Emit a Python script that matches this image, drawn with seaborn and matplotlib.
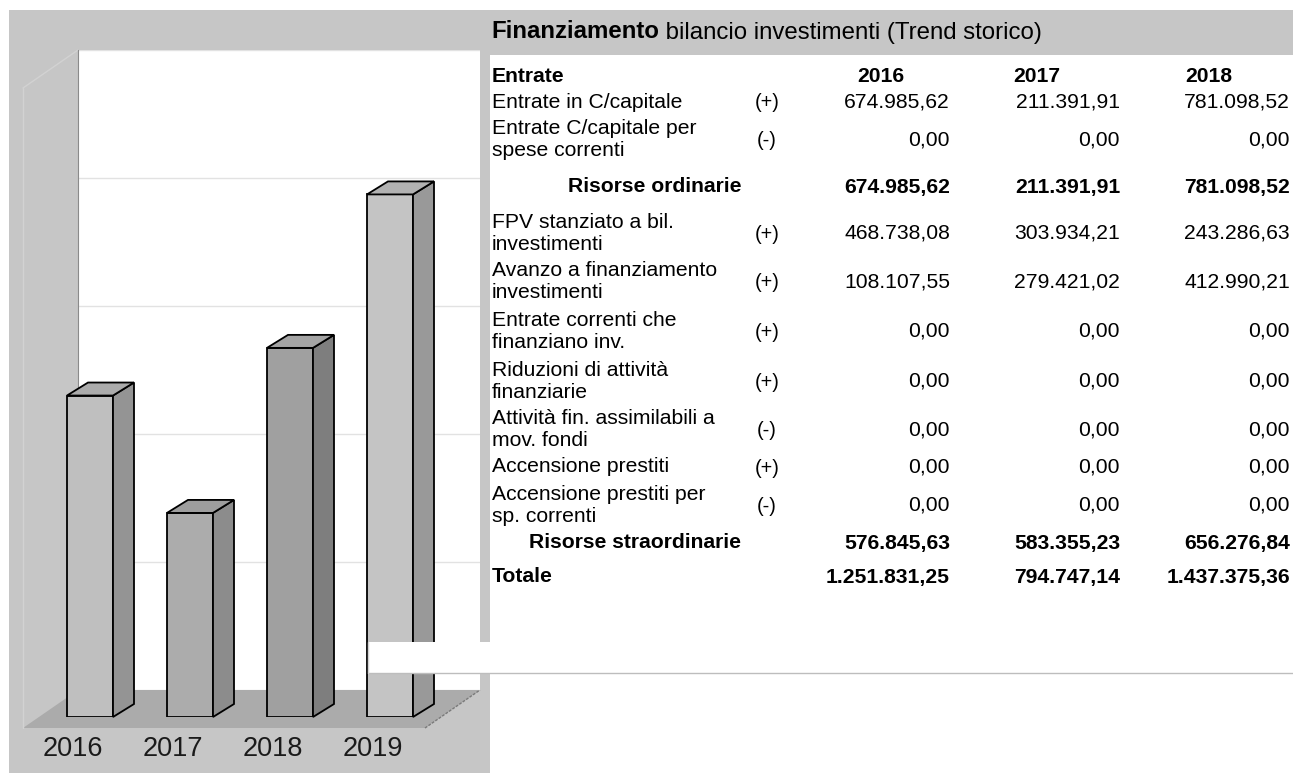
import matplotlib
matplotlib.use("Agg")
import matplotlib.pyplot as plt
import matplotlib.transforms as mtransforms
from matplotlib.patches import Polygon, Rectangle
import seaborn as sns
import pandas as pd

# Dati del grafico: totale finanziamento investimenti per anno
anni = ["2016", "2017", "2018", "2019"]
totali = [1251831.25, 794747.14, 1437375.36, 2035000.00]

# Dati della tabella
anni_tabella = ["2016", "2017", "2018"]
voci = [
    "Entrate in C/capitale",
    "Entrate C/capitale per\nspese correnti",
    "Risorse ordinarie",
    "FPV stanziato a bil.\ninvestimenti",
    "Avanzo a finanziamento\ninvestimenti",
    "Entrate correnti che\nfinanziano inv.",
    "Riduzioni di attività\nfinanziarie",
    "Attività fin. assimilabili a\nmov. fondi",
    "Accensione prestiti",
    "Accensione prestiti per\nsp. correnti",
    "Risorse straordinarie",
    "Totale",
]
segni = ["(+)", "(-)", "", "(+)", "(+)", "(+)", "(+)", "(-)", "(+)", "(-)", "", ""]
valori_2016 = [674985.62, 0, 674985.62, 468738.08, 108107.55, 0, 0, 0, 0, 0, 576845.63, 1251831.25]
valori_2017 = [211391.91, 0, 211391.91, 303934.21, 279421.02, 0, 0, 0, 0, 0, 583355.23, 794747.14]
valori_2018 = [781098.52, 0, 781098.52, 243286.63, 412990.21, 0, 0, 0, 0, 0, 656276.84, 1437375.36]
righe_grassetto = {2, 10, 11}

W, H = 1293, 775
GRIGIO = "#c6c6c6"

sns.set_style("white")
plt.rcParams["font.family"] = ["Liberation Sans", "DejaVu Sans"]
plt.rcParams["text.color"] = "black"

fig = plt.figure(figsize=(W / 100, H / 100), dpi=100)
fig.patch.set_facecolor("white")


def px_axes(x0, y0, x1, y1, z):
    # assi posizionati in pixel (origine in alto a sinistra)
    a = fig.add_axes([x0 / W, 1 - y1 / H, (x1 - x0) / W, (y1 - y0) / H])
    a.set_zorder(z)
    return a


def formatta(v):
    s = f"{v:,.2f}"
    return s.replace(",", "X").replace(".", ",").replace("X", ".")


# --- sfondo (coordinate in pixel) ---
bg = px_axes(0, 0, W, H, 0)
bg.set_xlim(0, W)
bg.set_ylim(H, 0)
bg.axis("off")
bg.add_patch(Rectangle((9, 10), 481, 763, color=GRIGIO, lw=0))
bg.add_patch(Rectangle((9, 10), W - 9, 45, color=GRIGIO, lw=0))
# pavimento 3D
bg.add_patch(Polygon([(23, 728), (425, 728), (480, 690), (78, 690)], closed=True,
                     facecolor="#ababab", edgecolor="none"))
bg.plot([425, 480], [728, 690], color="#7a7a7a", lw=1, ls=(0, (2, 1)))
# parete sinistra
bg.plot([23, 23], [88, 728], color="#d2d2d2", lw=1)
bg.plot([23, 78], [88, 50], color="#d2d2d2", lw=1)

# --- parete di fondo con griglia ---
wall = px_axes(78, 50, 480, 690, 1)
wall.set_facecolor("white")
wall.set_xlim(0, 1)
wall.set_ylim(0, 2500000)
wall.set_yticks(range(0, 2500001, 500000))
wall.set_xticks([])
wall.yaxis.grid(True, color="#e2e2e2", lw=1)
wall.tick_params(left=False, labelleft=False)
for s in ["top", "right", "bottom"]:
    wall.spines[s].set_visible(False)
wall.spines["left"].set_color("#8a8a8a")
wall.spines["left"].set_linewidth(0.8)

# --- barre ---
fronte = ["#bfbfbf", "#acacac", "#a0a0a0", "#c4c4c4"]
lati = ["#949494", "#8c8c8c", "#7e7e7e", "#999999"]
cime = ["#ababab", "#9e9e9e", "#a4a4a4", "#b2b2b2"]

ax = px_axes(40, 75, 440, 717, 2)
ax.patch.set_alpha(0)
df = pd.DataFrame({"anno": anni, "totale": totali})
sns.barplot(data=df, x="anno", y="totale", hue="anno", palette=fronte, width=0.46,
            saturation=1, edgecolor="black", linewidth=1.3, legend=False, ax=ax)
ax.set_xlim(-0.5, 3.5)
ax.set_ylim(0, 2500000)

# facce laterali e superiori per l'effetto 3D
bb = ax.get_window_extent()
dx = 21 / bb.width * 4.0
dy = 13 / bb.height * 2500000
for p, cl, ct in zip(list(ax.patches), lati, cime):
    x0, y0 = p.get_x(), p.get_y()
    x1, top = x0 + p.get_width(), y0 + p.get_height()
    ax.add_patch(Polygon([(x1, y0), (x1 + dx, y0 + dy), (x1 + dx, top + dy), (x1, top)],
                         closed=True, facecolor=cl, edgecolor="black", lw=1.3, clip_on=False))
    ax.add_patch(Polygon([(x0, top), (x0 + dx, top + dy), (x1 + dx, top + dy), (x1, top)],
                         closed=True, facecolor=ct, edgecolor="black", lw=1.3, clip_on=False))

ax.set_xlabel("")
ax.set_ylabel("")
ax.set_yticks([])
ax.tick_params(axis="x", length=0, pad=14, labelsize=19.5, labelcolor="#1a1a1a")
shift = mtransforms.ScaledTranslation(-17 / 100, 0, fig.dpi_scale_trans)
for lab in ax.get_xticklabels():
    lab.set_transform(lab.get_transform() + shift)
sns.despine(ax=ax, left=True, bottom=True)

# --- tabella e fascia bianca sopra ---
tab = px_axes(0, 0, W, H, 5)
tab.set_xlim(0, W)
tab.set_ylim(H, 0)
tab.axis("off")
tab.patch.set_alpha(0)

tab.add_patch(Rectangle((368, 642), W - 368, 31, facecolor="white", edgecolor="none"))
tab.plot([368, W], [673, 673], color="#bdbdbd", lw=1)
tab.plot([368, 368], [642, 673], color="#d4d4d4", lw=1)

FS = 15.2
t1 = tab.text(491, 32, "Finanziamento", fontsize=17.3, weight="bold", va="center", ha="left")
tab.annotate(" bilancio investimenti (Trend storico)", xy=(1, 0), xycoords=t1,
             fontsize=17.3, va="bottom", ha="left")

tab.text(492, 77, "Entrate", fontsize=FS, weight="bold", va="center")
col_dx = [950, 1120, 1290]
intest_x = [857, 1013, 1185]
for anno, xl in zip(anni_tabella, intest_x):
    tab.text(xl, 77, anno, fontsize=FS, weight="bold", va="center", ha="left")

riga_y = [102, 140, 187, 233, 282, 331, 381, 430, 467, 505, 543, 577]
for i, (voce, segno, y) in enumerate(zip(voci, segni, riga_y)):
    peso = "bold" if i in righe_grassetto else "normal"
    if i in (2, 10):
        tab.text(741, y, voce, fontsize=FS, weight=peso, va="center", ha="right")
    else:
        tab.text(492, y, voce, fontsize=FS, weight=peso, va="center", ha="left",
                 linespacing=1.2)
    if segno:
        tab.text(767, y + 1, segno, fontsize=FS - 1, va="center", ha="center")
    for vals, xr in zip([valori_2016, valori_2017, valori_2018], col_dx):
        tab.text(xr, y, formatta(vals[i]), fontsize=FS, weight=peso, va="center", ha="right")

fig.savefig("out.png", dpi=100)
